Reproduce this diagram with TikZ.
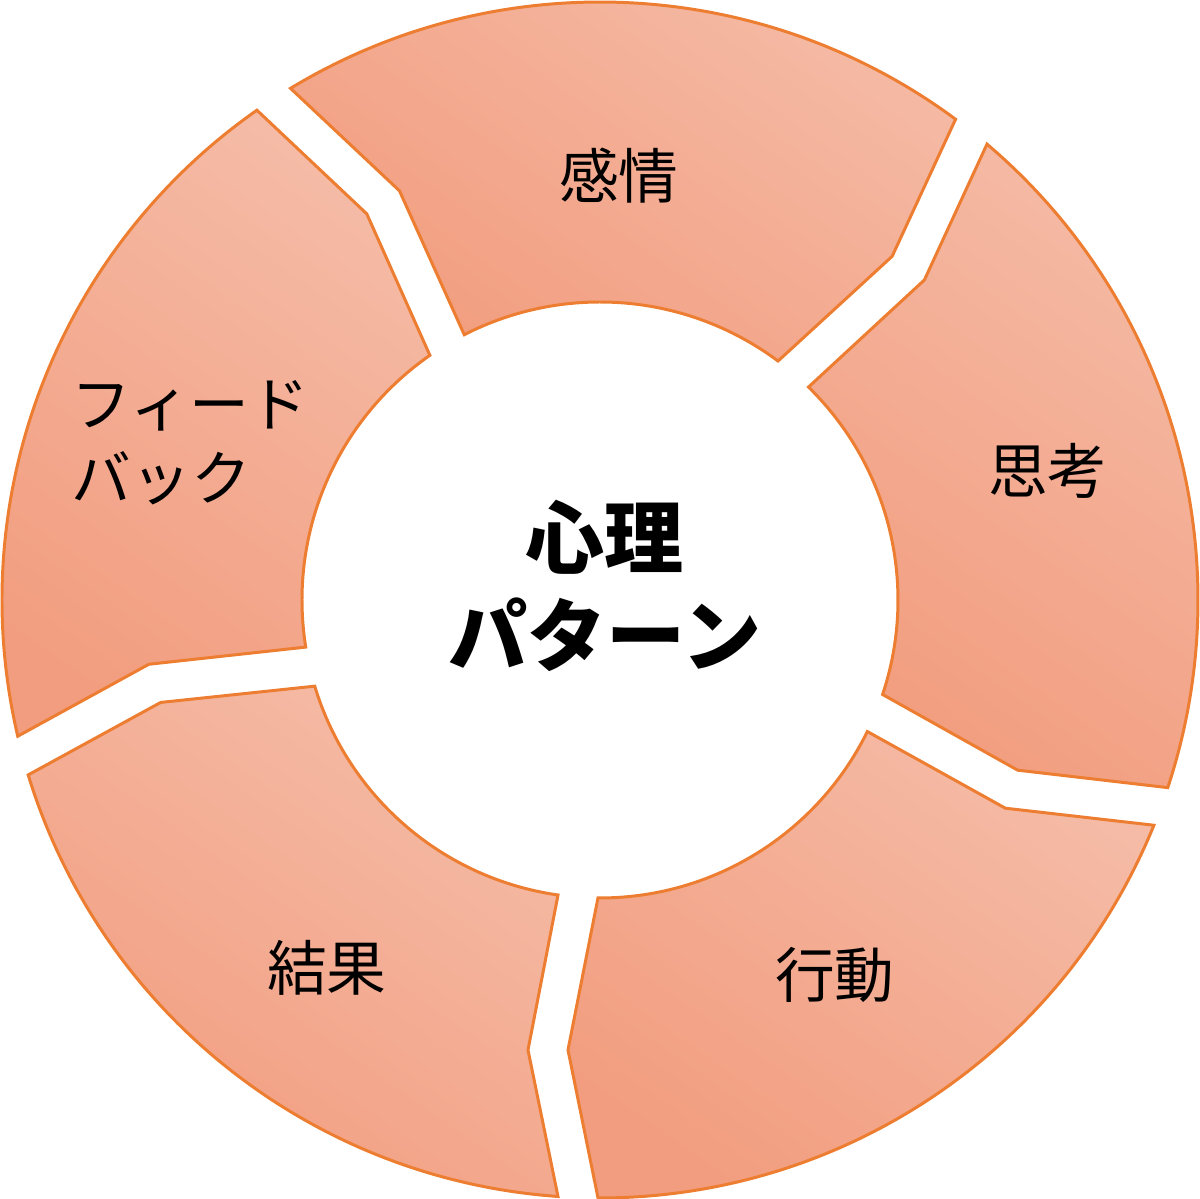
\documentclass[tikz,border=0pt]{standalone}
\usepackage{fontspec}
\newfontfamily\jpfont{Noto Sans CJK JP}
\definecolor{segline}{RGB}{237,125,49}
\definecolor{seglight}{RGB}{245,187,166}
\definecolor{segdark}{RGB}{242,157,127}
\tikzset{
  segment/.style={draw=segline, line width=0.85pt, top color=seglight, bottom color=segdark, shading angle=-35},
  seglabel/.style={font=\jpfont\fontsize{17}{21}\selectfont, inner sep=0pt},
  hublabel/.style={font=\jpfont\bfseries\fontsize{22.5}{28}\selectfont, inner sep=0pt, align=center}
}
\begin{document}
\begin{tikzpicture}
    \useasboundingbox (-6,-5.99) rectangle (6,6);
    % ring segments: start boundary / end boundary (degrees)
    \foreach \a/\b in {125.2/53.7, 53.7/-18.1, -18.1/-90, -90/-162.8, -162.8/-234.8}{
        \draw[segment] ({\a-4.03}:5.98) arc[start angle=\a-4.03, end angle=\b-0.19, radius=5.98]
            -- ({\b-4.07}:4.511) -- ({\b-0.39}:2.98)
            arc[start angle=\b-0.39, end angle=\a-8.10, radius=2.98]
            -- ({\a-9.09}:4.557) -- cycle;
    }

    \node[hublabel] (hub) at (0.05,0.14) {心理\\パターン};
    \node[seglabel] (feeling) at (0.19,4.24) {感情};
    \node[seglabel] (thought) at (4.48,1.29) {思考};
    \node[seglabel] (action) at (2.35,-3.75) {行動};
    \node[seglabel] (result) at (-2.73,-3.68) {結果};
    \node[seglabel, anchor=west, align=left] (feedback) at (-5.29,1.57) {フィード\\バック};
\end{tikzpicture}
\end{document}
